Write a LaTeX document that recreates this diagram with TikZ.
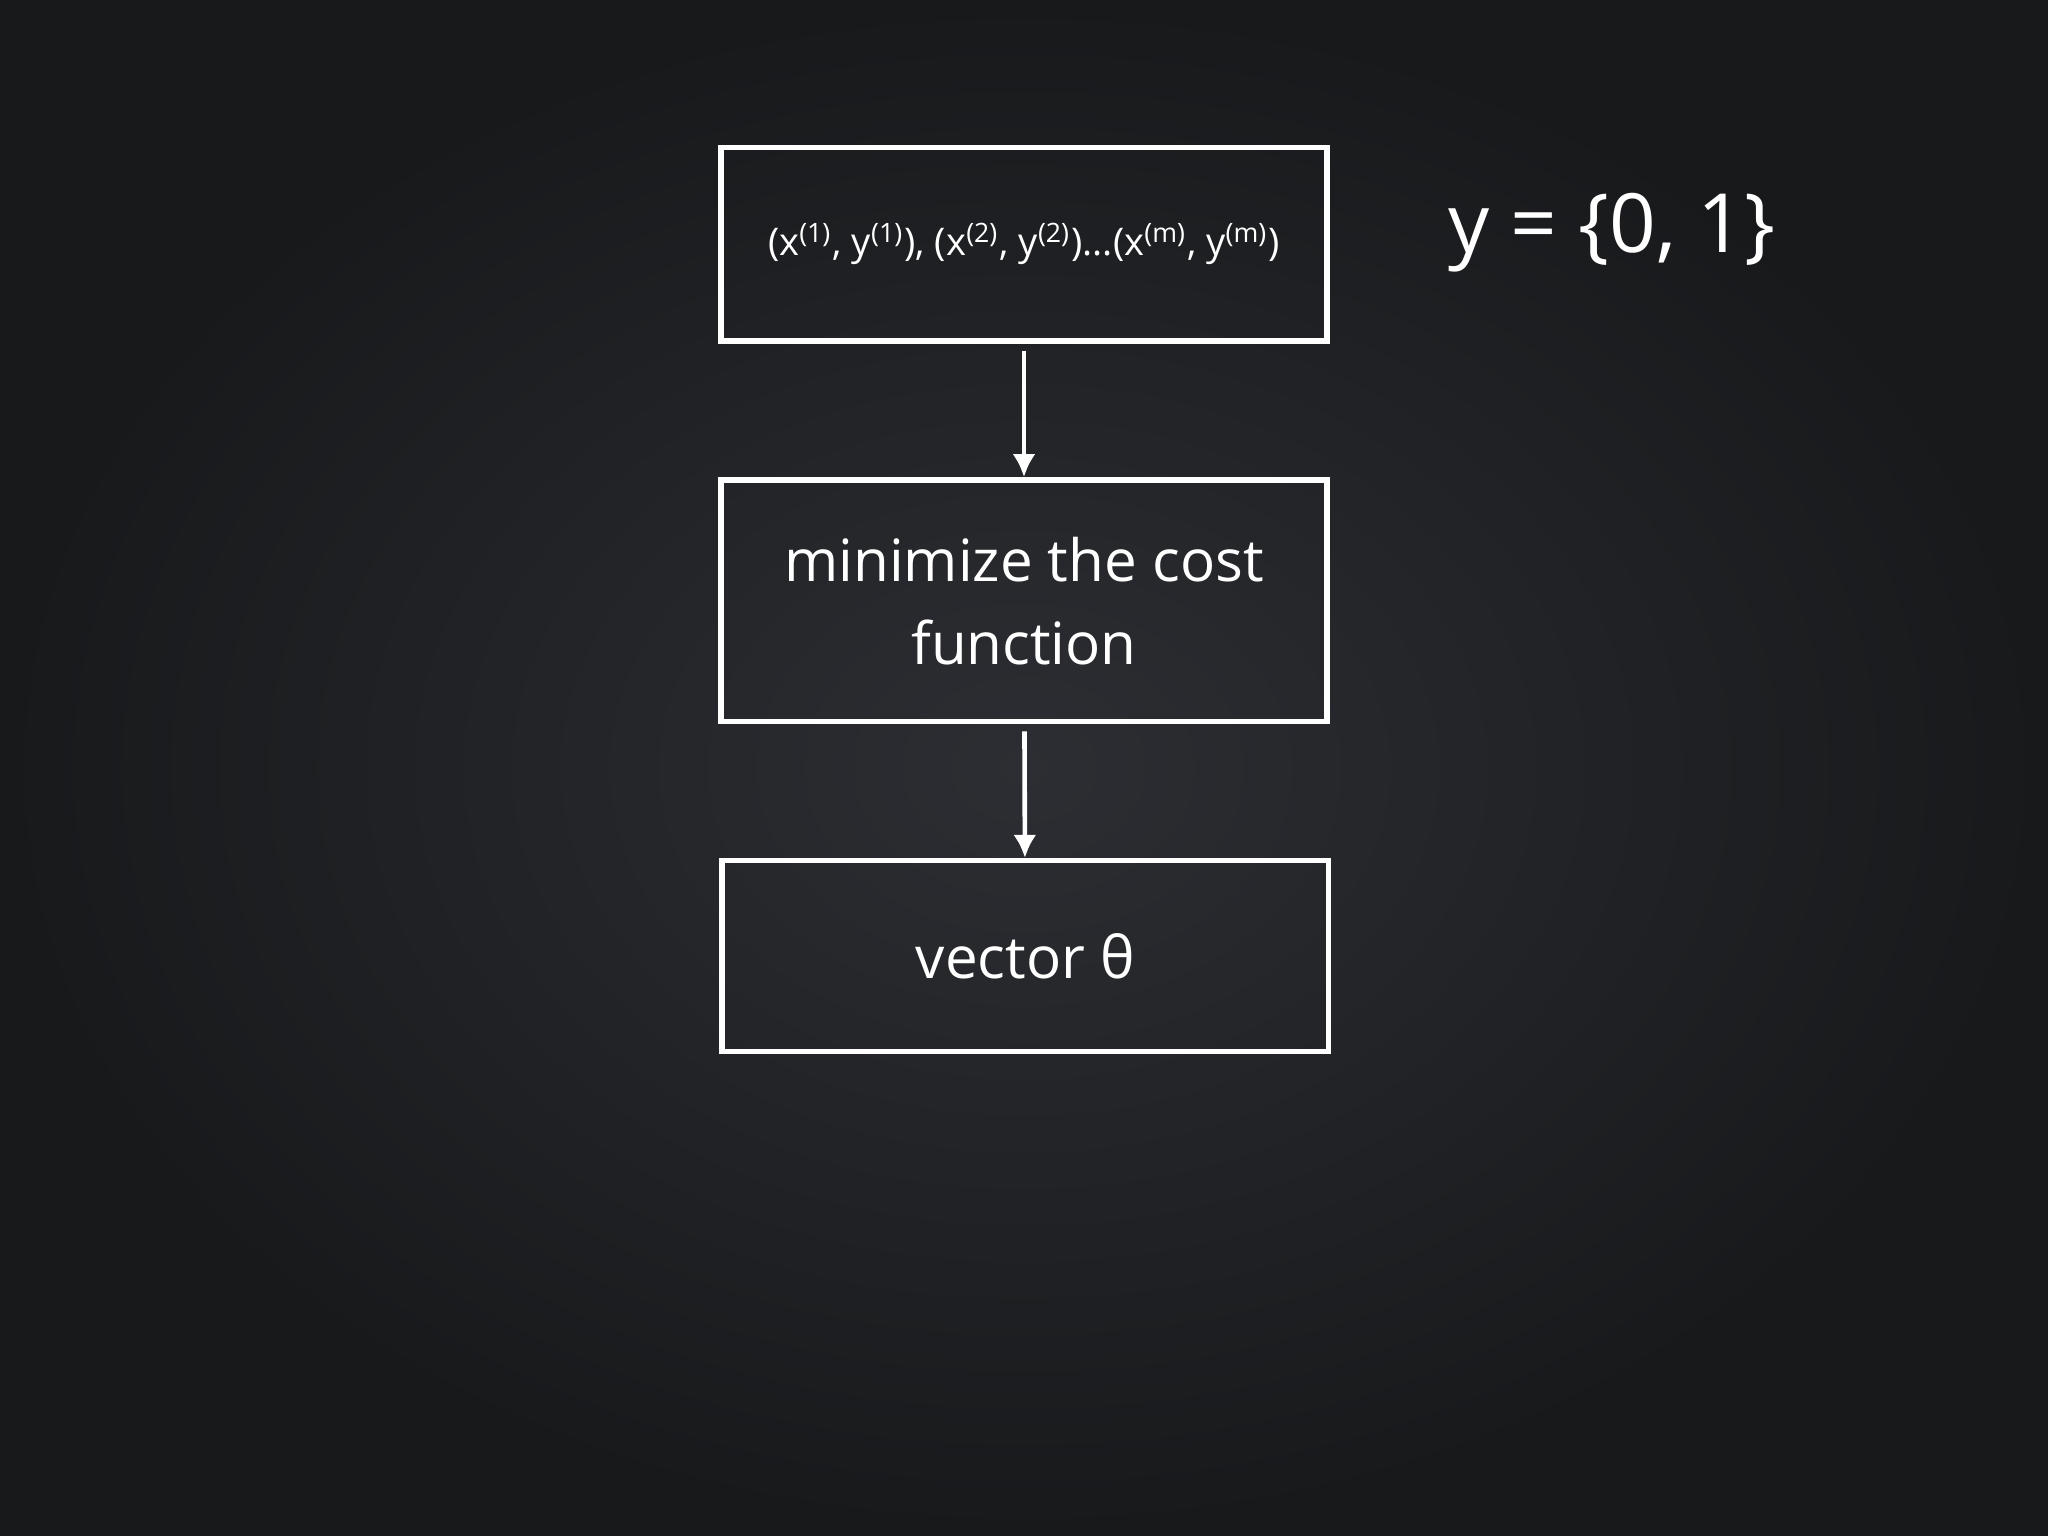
\documentclass[tikz,border=0pt]{standalone}
\usepackage{fontspec}
\setmainfont{Open Sans}
\definecolor{bgin}{HTML}{2C2E33}
\definecolor{bgout}{HTML}{18191B}
\begin{document}
\begin{tikzpicture}[x=0.01cm,y=-0.01cm,
  box/.style={draw=white,line width=1.2pt,minimum width=4.64cm,align=center,text=white},
  arr/.style={draw=white,line width=1pt,shorten <=1.5pt,-{Latex[length=5pt,width=5pt]}}]
\usetikzlibrary{arrows.meta}
\shade[inner color=bgin,outer color=bgout] (0,0) rectangle (1568,1176);
\useasboundingbox (0,0) rectangle (1568,1176);
\node[box,minimum height=1.48cm,font=\fontsize{8.3}{10}\selectfont] (a) at (784,187)
 {(x\textsuperscript{(1)}, y\textsuperscript{(1)}), (x\textsuperscript{(2)}, y\textsuperscript{(2)})...(x\textsuperscript{(m)}, y\textsuperscript{(m)})};
\node[box,minimum height=1.85cm,font=\fontsize{12.7}{18}\selectfont] (b) at (784,460)
 {minimize the cost\\function};
\node[box,minimum height=1.46cm,font=\fontsize{12.7}{18}\selectfont] (c) at (785,732) {vector θ};
\node[text=white,font=\fontsize{17.8}{22}\selectfont,anchor=center] (y) at (1234,178) {y = \{0, 1\}};
\draw[arr] (a) -- (b);
\draw[arr] (b) -- (c);
\end{tikzpicture}
\end{document}
